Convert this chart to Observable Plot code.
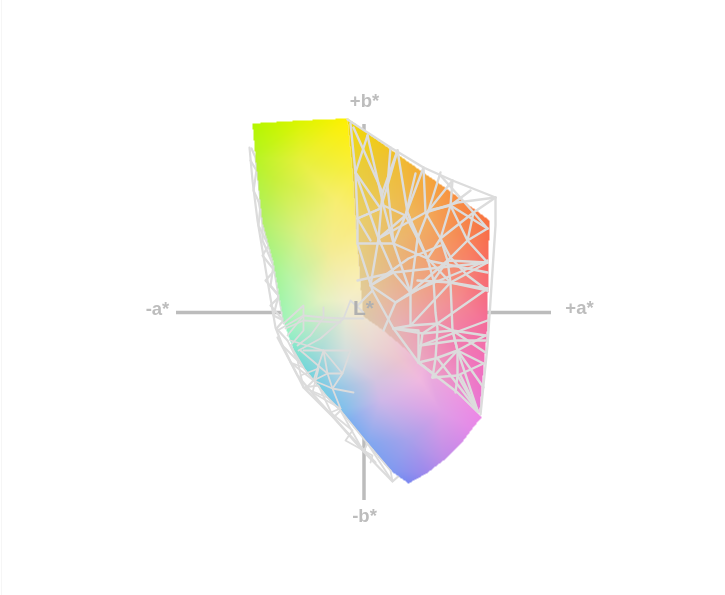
<!DOCTYPE html>
<html>
<head>
<meta charset="utf-8">
<script src="https://cdn.jsdelivr.net/npm/d3@7"></script>
<script src="https://cdn.jsdelivr.net/npm/@observablehq/plot@0.6"></script>
<style>html,body{margin:0;padding:0;background:#fff}svg{display:block}</style>
</head>
<body>
<div id="chart"></div>
<script>
// Gamut solid, in plane units of the projected view.
const leftEdge = [[252,123,"#b4f600"],[300,120,"#dcf500"],[347,118,"#fff000"],[352,173,"#f9ee44"],[355,223,"#faeb7c"],[360,285,"#f9efbe"],[368,310,"#efe6d2"],[425,358,"#f0b0d8"],
  [481,417,"#ec86e6"],[472,428,"#e58ae8"],[460,444,"#d28ae8"],[443,460,"#be8ce8"],[426,473,"#9e88ec"],[408,483,"#7a86f0"],[390,470,"#7f9af0"],[367,443,"#80a8f0"],[340,410,"#7cc0ec"],[327,397,"#74cce4"],[297,360,"#74dcd4"],[287,333,"#94f0c4"],[283,320,"#a0f4b8"],[273,262,"#a8f48c"],[262,222,"#b2f068"],[255,157,"#b8f424"]];
const leftInner = [[300,160,"#e6f03c"],[335,200,"#f7ee70"],[275,180,"#c8f03c"],[300,230,"#dcf080"],[290,280,"#b8f4a8"],[330,250,"#f4ec94"],[320,300,"#e2f2c0"],[345,300,"#f2eecc"],
  [345,360,"#cedce0"],[320,350,"#a8dcd8"],[330,390,"#84c8e8"],[350,420,"#80b0f0"],[380,400,"#ceb8e8"],[420,380,"#f0b8e0"],[410,440,"#a8a0ea"],[440,410,"#e0a0e6"],[400,360,"#ecc4d0"],[370,345,"#e8d8d4"],[375,380,"#d4c4e0"]];
const rightEdge = [[347,118,"#f2dc00"],[400,156,"#f0bc30"],[450,191,"#f89440"],[489,220,"#f87040"],[488,260,"#f86c60"],[487,325,"#f46c9c"],[483,370,"#f070c0"],[479,412,"#e878d8"],[430,370,"#eca0c4"],[383,330,"#e0c0b0"],[363,316,"#dcc8a8"],[360,285,"#e2cc94"],[355,223,"#e8d070"],[352,173,"#e8d040"]];
const rightInner = [[400,200,"#eebc50"],[420,220,"#f0b060"],[470,250,"#f88060"],[430,280,"#f0a080"],[400,320,"#e8b0b0"],[450,340,"#f080b0"],[440,240,"#f49c60"],[385,260,"#e6bc80"],[460,300,"#f48890"]];

// Wireframe polylines, flat x,y lists.
const wireBack = [
  [249,147,252,180,257,220,262,250,267,280,275,327,282,345],
  [251,148,255,157,258,180,262,222,268,245,273,265,278,295,283,320],
  [250,160,256,170,253,190,260,205,258,225,268,245,262,255,274,270,265,280,279,296,270,305,283,320,276,328,287,340],
  [258,200,262,222,262,240,273,265,270,285,278,295,273,315,283,320],
  [282,345,303,387,333,417,363,451,392,481,400,474],
  [277,337,297,375,318,400,345,430,375,462]
];
const wireFront = [
  [350,123,355,172,357,218,357,243,372,290,393,328,418,362,457,392,478,412],
  [353,127,382,192,378,238,370,285],
  [367,135,383,205,405,215,417,238,410,292,395,302,383,330],
  [390,147,387,185,380,208,357,218],
  [397,150,407,212,427,258,433,280,435,312,437,328,435,358,432,377],
  [397,150,387,185,393,243,410,292,410,325,393,328],
  [423,167,405,215,393,243,357,243],
  [423,167,425,212,440,238,447,260,450,282,452,330,457,350,457,375,455,392],
  [452,180,428,210,417,238],
  [452,180,450,205,467,240,487,262],
  [495,197,473,212,440,238,427,258,393,243],
  [495,197,457,202,425,212,378,238],
  [487,228,467,240,447,260,410,292],
  [487,262,447,260,433,280,395,302],
  [487,288,450,282,410,325],
  [487,262,450,282,433,280],
  [485,335,452,330,422,333,393,328],
  [487,288,437,323,422,333,418,362],
  [483,363,457,350,435,358,418,362],
  [485,335,457,350,432,377],
  [477,410,457,350,452,330,437,323,410,325],
  [483,363,457,375,432,377],
  [477,410,457,375],
  [487,228,450,205,428,210],
  [355,172,380,208,357,218],
  [355,172,367,135],
  [370,285,395,302],
  [393,272,487,262],
  [370,285,408,258,440,245],
  [410,292,487,260],
  [417,280,450,282,487,290],
  [378,238,393,272,410,292],
  [417,238,427,258,450,282],
  [440,238,450,257,467,275,487,290],
  [487,272,427,260],
  [393,272,357,280],
  [370,285,393,272],
  [382,192,397,150],
  [405,215,415,173],
  [428,210,440,172],
  [450,205,470,190],
  [473,212,440,175],
  [357,218,370,240],
  [355,172,378,238],
  [383,205,393,243],
  [405,215,378,238],
  [407,212,417,238],
  [467,240,473,212],
  [487,228,473,212],
  [450,205,440,238],
  [393,328,418,330,418,362],
  [437,358,477,410],
  [452,330,485,352],
  [457,350,483,387],
  [460,375,477,410],
  [487,320,420,345],
  [420,345,455,340,485,340],
  [418,362,435,375],
  [372,290,357,305],
  [347,119,390,147,423,167,452,180,495,197,495,225,490,300,487,345,480,414]
];
const wireCentre = [
  [277,330,303,315,323,317,343,318,363,318],
  [283,323,303,305,303,330,290,345],
  [323,307,323,317,310,335,297,345],
  [343,318,350,300,363,312],
  [303,315,287,335],
  [343,318,320,338,298,350],
  [290,340,323,350,350,350],
  [303,350,323,350,342,373,332,388,340,408],
  [327,373,323,350,313,380,332,388,353,392],
  [350,350,342,373,327,373,313,380],
  [300,350,327,373,332,388],
  [285,328,303,320,340,322],
  [287,340,297,360,327,397,340,410,367,443,390,470],
  [282,345,297,360,303,387,318,385,333,417,340,410,363,451,367,443,392,481,390,470],
  [290,345,303,367,290,362,313,380,305,388,327,397],
  [300,375,318,368,312,392,340,408,330,412,352,430,345,440,372,455,370,462]
];
const axisLabels = ["+b*", "-a*", "+a*", "-b*"];
const labelX = [364, 157, 579, 364];
const labelY = [101, 309, 308, 516];

// Barycentric fill from colour samples, kept inside the face outline (the first `n` samples).
function faceFill(n) {
  return (index, w, h, X, Y, V) => {
    const out = new Array(w * h).fill(null);
    const I = Array.from(index);
    const pts = I.map(i => [X[i], Y[i]]);
    const cols = I.map(i => d3.rgb(V[i]));
    const outline = pts.slice(0, n);
    const t = d3.Delaunay.from(pts).triangles;
    for (let k = 0; k < t.length; k += 3) {
      const [a, b, c] = [t[k], t[k + 1], t[k + 2]];
      const [ax, ay] = pts[a], [bx, by] = pts[b], [cx, cy] = pts[c];
      const d = (by - cy) * (ax - cx) + (cx - bx) * (ay - cy);
      if (!d) continue;
      const x0 = Math.max(0, Math.floor(Math.min(ax, bx, cx))), x1 = Math.min(w - 1, Math.ceil(Math.max(ax, bx, cx)));
      const y0 = Math.max(0, Math.floor(Math.min(ay, by, cy))), y1 = Math.min(h - 1, Math.ceil(Math.max(ay, by, cy)));
      for (let y = y0; y <= y1; ++y) for (let x = x0; x <= x1; ++x) {
        const px = x + 0.5, py = y + 0.5;
        const u = ((by - cy) * (px - cx) + (cx - bx) * (py - cy)) / d;
        const v = ((cy - ay) * (px - cx) + (ax - cx) * (py - cy)) / d;
        const s = 1 - u - v;
        if (u < -1e-6 || v < -1e-6 || s < -1e-6) continue;
        if (!d3.polygonContains(outline, [px, py])) continue;
        out[y * w + x] = d3.rgb(u * cols[a].r + v * cols[b].r + s * cols[c].r, u * cols[a].g + v * cols[b].g + s * cols[c].g, u * cols[a].b + v * cols[b].b + s * cols[c].b);
      }
    }
    return out;
  };
}
const face = (edge, inner) => Plot.raster(edge.concat(inner), {
  x: d => d[0], y: d => d[1], fill: d => d[2],
  x1: 0, y1: 0, x2: 725, y2: 595, pixelSize: 1,
  interpolate: faceFill(edge.length)
});
const rows = lines => lines.flatMap((l, k) => d3.range(0, l.length, 2).map(i => ({x: l[i], y: l[i + 1], k})));
const wire = (lines, width) => Plot.line(rows(lines), {x: "x", y: "y", z: "k", stroke: "#dcdcdc", strokeWidth: width, strokeLinejoin: "round", curve: "linear"});

const chart = Plot.plot({
  width: 725, height: 595, margin: 0,
  x: {domain: [0, 725], range: [0, 725], axis: null},
  y: {domain: [0, 595], range: [0, 595], axis: null},
  style: {background: "#fff", filter: "blur(0.5px)"},
  marks: [
    Plot.ruleX([1], {stroke: "#f6f6f6", strokeWidth: 1}),
    Plot.ruleY([312], {x1: 176, x2: 551, stroke: "#bcbcbc", strokeWidth: 3.5}),
    Plot.ruleX([363.5], {y1: 124, y2: 500, stroke: "#bcbcbc", strokeWidth: 3.5}),
    wire(wireBack, 2.2),
    face(leftEdge, leftInner),
    face(rightEdge, rightInner),
    wire(wireFront, 2.4),
    wire(wireCentre, 1.8),
    Plot.text(axisLabels, {x: (d, i) => labelX[i], y: (d, i) => labelY[i], text: d => d, fontSize: 18.5, fontWeight: "bold", fontFamily: "Liberation Sans", fill: "#bdbdbd"}),
    Plot.text(["L*"], {x: [363], y: [308], text: d => d, fontSize: 21, fontWeight: "bold", fontFamily: "Liberation Sans", fill: "#b0b0b0"})
  ]
});
document.getElementById("chart").append(chart);
</script>
</body>
</html>
